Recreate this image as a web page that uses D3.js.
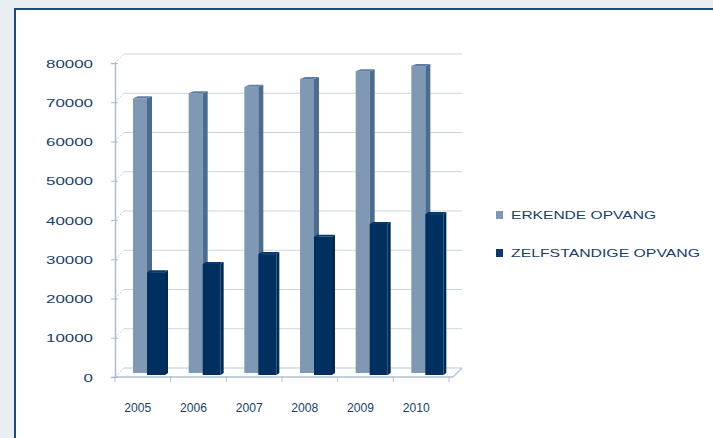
<!DOCTYPE html>
<html>
<head>
<meta charset="utf-8">
<script src="https://cdn.jsdelivr.net/npm/d3@7"></script>
<style>
  body { margin: 0; background: #e9eef2; }
  text { font-family: "Liberation Sans", Arial, sans-serif; }
</style>
</head>
<body>
<div id="chart"></div>
<script>
const years = ['2005', '2006', '2007', '2008', '2009', '2010'];
const erkende = [70000, 71300, 72900, 74900, 76900, 78200];
const zelfstandige = [26200, 28300, 30800, 35200, 38500, 41000];
const yTicks = [0, 10000, 20000, 30000, 40000, 50000, 60000, 70000, 80000];
const seriesNames = ['ERKENDE OPVANG', 'ZELFSTANDIGE OPVANG'];

const W = 713, H = 438;
const depth = {dx: 9, dy: -9};
const textColor = '#173f6e';

const svg = d3.select('#chart')
  .append('svg')
    .attr('width', W)
    .attr('height', H);

// white panel with dark border
svg.append('rect')
  .attr('x', 15).attr('y', 9)
  .attr('width', W + 10).attr('height', H + 10)
  .attr('fill', '#fff')
  .attr('stroke', '#1d4a78')
  .attr('stroke-width', 2);

// scales
const x = d3.scaleBand()
  .domain(years)
  .range([115, 449]);

const y = d3.scaleLinear()
  .domain([0, 80000])
  .range([377, 63]);

// back wall gridlines + side wall diagonals
const grid = svg.append('g');
grid.selectAll('line.grid')
  .data(yTicks)
  .join('line')
    .attr('class', 'grid')
    .attr('x1', 115 + depth.dx)
    .attr('x2', 449 + depth.dx + 4)
    .attr('y1', d => y(d) + depth.dy)
    .attr('y2', d => y(d) + depth.dy)
    .attr('stroke', d => d === 0 ? '#b7c8d8' : '#c9d6e2')
    .attr('stroke-width', 1.2);
grid.selectAll('line.diag')
  .data(yTicks)
  .join('line')
    .attr('class', 'diag')
    .attr('x1', 115).attr('y1', d => y(d))
    .attr('x2', 115 + depth.dx).attr('y2', d => y(d) + depth.dy)
    .attr('stroke', '#c2d0de')
    .attr('stroke-dasharray', '2,1.5');

// floor front edge and right diagonal
svg.append('line')
  .attr('x1', 115).attr('x2', 449 + 4)
  .attr('y1', y(0)).attr('y2', y(0))
  .attr('stroke', '#b0c2d4').attr('stroke-width', 1.5);
svg.append('line')
  .attr('x1', 449 + 4).attr('y1', y(0))
  .attr('x2', 449 + 4 + depth.dx).attr('y2', y(0) + depth.dy)
  .attr('stroke', '#b0c2d4').attr('stroke-width', 1.2);

// bars
function bar3d(g, xs, top, base, w, side, front, sideCol, topCol) {
  g.append('rect')
    .attr('x', xs).attr('y', top)
    .attr('width', w).attr('height', base - top)
    .attr('fill', front);
  g.append('path')
    .attr('d', `M${xs + w},${top} L${xs + w + side},${top - 2} L${xs + w + side},${base - 2} L${xs + w},${base} Z`)
    .attr('fill', sideCol);
  g.append('path')
    .attr('d', `M${xs},${top} L${xs + side},${top - 2} L${xs + w + side},${top - 2} L${xs + w},${top} Z`)
    .attr('fill', topCol);
}

const bars = svg.append('g');
years.forEach((yr, i) => {
  const x0 = x(yr);
  const g = bars.append('g');
  bar3d(g, x0 + 18, y(erkende[i]) - 4, y(0) - 4, 14, 5, '#7f99b4', '#4b6c90', '#5d7ea2');
  bar3d(g, x0 + 32, y(zelfstandige[i]) - 2, y(0) - 2, 18, 3, '#00305f', '#002a55', '#0a3a6a');
});

// y axis
const yAxis = svg.append('g')
  .attr('transform', 'translate(115,0)')
  .call(d3.axisLeft(y).tickValues(yTicks).tickSize(4).tickPadding(18).tickFormat(d3.format('d')));
yAxis.select('.domain').attr('stroke', '#a9bdd1').attr('stroke-width', 1.5);
yAxis.selectAll('.tick line').attr('stroke', '#a9bdd1').attr('x2', 3).attr('x1', -4);
yAxis.selectAll('.tick text')
  .attr('fill', textColor)
  .style('font-size', '11.5px')
  .attr('dy', '0.36em')
  .attr('textLength', d => String(d).length * 9.4)
  .attr('lengthAdjust', 'spacingAndGlyphs');

// x axis category boundary ticks
svg.append('g').selectAll('line')
  .data(d3.range(years.length + 1))
  .join('line')
    .attr('x1', i => x.range()[0] + i * x.step())
    .attr('x2', i => x.range()[0] + i * x.step())
    .attr('y1', y(0) - 1).attr('y2', y(0) + 5)
    .attr('stroke', '#b0c2d4');

svg.append('g').selectAll('text')
  .data(years)
  .join('text')
    .attr('x', d => x(d) + x.bandwidth() / 2 - 5)
    .attr('y', 412)
    .attr('text-anchor', 'middle')
    .attr('fill', textColor)
    .style('font-size', '12px')
    .attr('textLength', 27)
    .attr('lengthAdjust', 'spacingAndGlyphs')
    .text(d => d);

// legend
const legendColors = ['#7f99b4', '#0b3a6a'];
const legend = svg.append('g');
seriesNames.forEach((name, i) => {
  const ly = 217 + i * 38;
  legend.append('rect')
    .attr('x', 496).attr('y', ly - 6)
    .attr('width', 7).attr('height', 8)
    .attr('fill', legendColors[i]);
  legend.append('text')
    .attr('x', 511).attr('y', ly + 2)
    .attr('fill', textColor)
    .style('font-size', '11.5px')
    .attr('textLength', i === 0 ? 145 : 189)
    .attr('lengthAdjust', 'spacingAndGlyphs')
    .text(name);
});
</script>
</body>
</html>
